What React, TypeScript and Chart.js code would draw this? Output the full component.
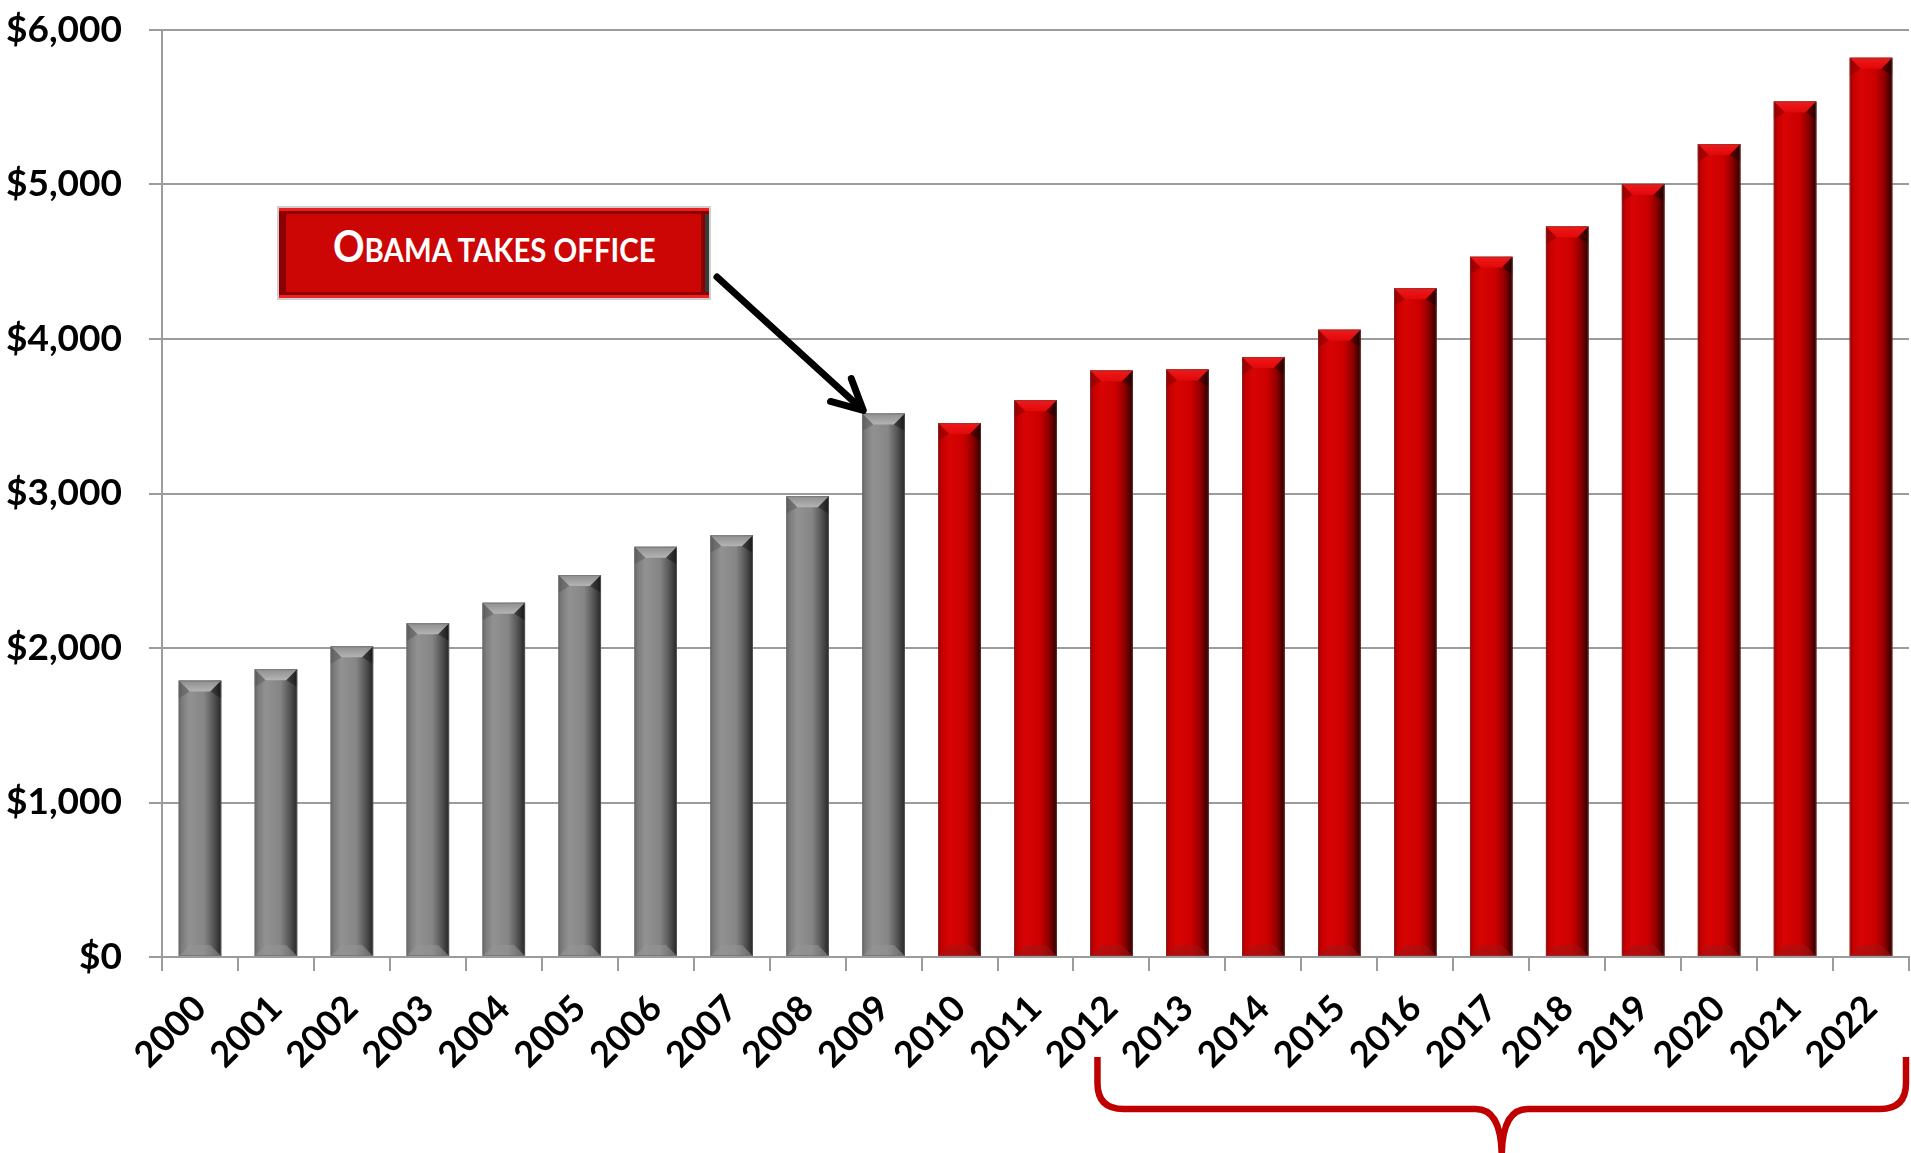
import React, { useEffect, useRef } from 'react';
import { Chart, registerables } from 'chart.js';

Chart.register(...registerables);

// ---------- data ----------
const years = ['2000', '2001', '2002', '2003', '2004', '2005', '2006', '2007', '2008', '2009', '2010', '2011',
  '2012', '2013', '2014', '2015', '2016', '2017', '2018', '2019', '2020', '2021', '2022'];
const outlays = [1789, 1863, 2011, 2160, 2293, 2472, 2655, 2729, 2983, 3518, 3456, 3603,
  3796, 3803, 3883, 4060, 4329, 4532, 4728, 5004, 5262, 5537, 5820];
const yTickValues = [0, 1000, 2000, 3000, 4000, 5000, 6000];
const firstRedYear = '2010';
const annotationYear = '2009';
const braceStartYear = '2012';
const annotationLabel = 'Obama takes office';

// ---------- layout ----------
const W = 1911;
const H = 1153;
const ANN = { left: 277, top: 206, width: 434, height: 94 };
const FONT = 'Lato, "Open Sans", "DejaVu Sans", sans-serif';

const GRID = '#9c9c9c';

function barStyles(chart: any) {
  const ctx = chart.ctx as CanvasRenderingContext2D;
  const meta = chart.getDatasetMeta(0);
  const redFrom = years.indexOf(firstRedYear);
  meta.data.forEach((el: any, i: number) => {
    const { x, y, base, width } = el.getProps(['x', 'y', 'base', 'width'], true);
    const l = x - width / 2;
    const r = x + width / 2;
    const red = i >= redFrom;
    ctx.save();
    const g = ctx.createLinearGradient(l, 0, r, 0);
    if (red) {
      g.addColorStop(0, '#9a0000');
      g.addColorStop(0.08, '#c40000');
      g.addColorStop(0.25, '#d80404');
      g.addColorStop(0.6, '#cc0000');
      g.addColorStop(0.82, '#8c0000');
      g.addColorStop(1, '#2a0000');
    } else {
      g.addColorStop(0, '#666666');
      g.addColorStop(0.08, '#7c7c7c');
      g.addColorStop(0.25, '#919191');
      g.addColorStop(0.6, '#868686');
      g.addColorStop(0.82, '#555555');
      g.addColorStop(1, '#262626');
    }
    ctx.fillStyle = g;
    ctx.fillRect(l, y, width, base - y);
    // top bevel
    const bh = Math.min(11, (base - y) / 2);
    ctx.beginPath();
    ctx.moveTo(l, y);
    ctx.lineTo(r, y);
    ctx.lineTo(r - bh, y + bh);
    ctx.lineTo(l + bh, y + bh);
    ctx.closePath();
    const tg = ctx.createLinearGradient(0, y, 0, y + bh);
    if (red) {
      tg.addColorStop(0, '#f01a1a');
      tg.addColorStop(1, '#e00808');
    } else {
      tg.addColorStop(0, '#8e8e8e');
      tg.addColorStop(1, '#b4b4b4');
    }
    ctx.fillStyle = tg;
    ctx.fill();
    // side bevel triangles (top)
    ctx.beginPath();
    ctx.moveTo(l, y);
    ctx.lineTo(l + bh, y + bh);
    ctx.lineTo(l, y + bh * 1.6);
    ctx.closePath();
    ctx.fillStyle = red ? 'rgba(120,0,0,0.45)' : 'rgba(60,60,60,0.3)';
    ctx.fill();
    ctx.beginPath();
    ctx.moveTo(r, y);
    ctx.lineTo(r - bh, y + bh);
    ctx.lineTo(r, y + bh * 1.6);
    ctx.closePath();
    ctx.fillStyle = 'rgba(0,0,0,0.35)';
    ctx.fill();
    // bottom bevel
    ctx.beginPath();
    ctx.moveTo(l, base);
    ctx.lineTo(r, base);
    ctx.lineTo(r - bh, base - bh);
    ctx.lineTo(l + bh, base - bh);
    ctx.closePath();
    ctx.fillStyle = red ? 'rgba(160,20,20,0.55)' : 'rgba(150,150,150,0.55)';
    ctx.fill();
    // thin outline
    ctx.strokeStyle = red ? 'rgba(120,60,60,0.6)' : 'rgba(110,110,110,0.6)';
    ctx.lineWidth = 1;
    ctx.strokeRect(l + 0.5, y + 0.5, width - 1, base - y - 1);
    ctx.restore();
  });
}

function drawArrow(chart: any) {
  const ctx = chart.ctx as CanvasRenderingContext2D;
  const meta = chart.getDatasetMeta(0);
  const el = meta.data[years.indexOf(annotationYear)];
  if (!el) return;
  const { x, y, width } = el.getProps(['x', 'y', 'width'], true);
  const tx = x - width / 2 + 1;
  const ty = y - 3;
  const sx = ANN.left + ANN.width + 6;
  const sy = ANN.top + 71;
  const ang = Math.atan2(ty - sy, tx - sx);
  ctx.save();
  ctx.strokeStyle = '#000';
  ctx.lineWidth = 7;
  ctx.lineCap = 'round';
  ctx.lineJoin = 'round';
  ctx.beginPath();
  ctx.moveTo(sx, sy);
  ctx.lineTo(tx - Math.cos(ang) * 4, ty - Math.sin(ang) * 4);
  ctx.stroke();
  const len = 34;
  const spread = (27 * Math.PI) / 180;
  ctx.beginPath();
  ctx.moveTo(tx + Math.cos(ang + Math.PI - spread) * len, ty + Math.sin(ang + Math.PI - spread) * len);
  ctx.lineTo(tx, ty);
  ctx.lineTo(tx + Math.cos(ang + Math.PI + spread) * len, ty + Math.sin(ang + Math.PI + spread) * len);
  ctx.stroke();
  ctx.restore();
}

function drawBrace(chart: any) {
  const ctx = chart.ctx as CanvasRenderingContext2D;
  const xs = chart.scales.x;
  const area = chart.chartArea;
  const L = xs.getPixelForValue(years.indexOf(braceStartYear)) - 14;
  const R = area.right - 3;
  const C = (L + R) / 2;
  const top = 1057;
  const mid = 1109;
  const bot = H + 4;
  const r = 26;
  ctx.save();
  ctx.strokeStyle = '#c00000';
  ctx.lineWidth = 6.5;
  ctx.lineCap = 'butt';
  ctx.beginPath();
  ctx.moveTo(L, top);
  ctx.lineTo(L, mid - r);
  ctx.quadraticCurveTo(L, mid, L + r, mid);
  ctx.lineTo(C - r, mid);
  ctx.quadraticCurveTo(C, mid, C, bot);
  ctx.moveTo(R, top);
  ctx.lineTo(R, mid - r);
  ctx.quadraticCurveTo(R, mid, R - r, mid);
  ctx.lineTo(C + r, mid);
  ctx.quadraticCurveTo(C, mid, C, bot);
  ctx.stroke();
  ctx.restore();
}

const decorPlugin = {
  id: 'decor',
  afterDatasetsDraw(chart: any) {
    barStyles(chart);
  },
  afterDraw(chart: any) {
    drawArrow(chart);
    drawBrace(chart);
  },
};

export default function App() {
  const canvasRef = useRef<HTMLCanvasElement | null>(null);

  useEffect(() => {
    const canvas = canvasRef.current;
    if (!canvas) return;
    const redFrom = years.indexOf(firstRedYear);
    const chart = new Chart(canvas, {
      type: 'bar',
      data: {
        labels: years,
        datasets: [
          {
            data: outlays,
            backgroundColor: years.map((_, i) => (i >= redFrom ? '#cc0000' : '#888888')),
            borderWidth: 0,
            barPercentage: 0.56,
            categoryPercentage: 1,
          },
        ],
      },
      options: {
        responsive: false,
        animation: false,
        devicePixelRatio: 1,
        layout: { padding: { left: 0, right: 2, top: 30, bottom: 0 } },
        plugins: {
          legend: { display: false },
          tooltip: { enabled: false },
        },
        scales: {
          x: {
            ticks: {
              autoSkip: false,
              maxRotation: 45,
              minRotation: 45,
              color: '#000',
              padding: 16,
              font: { family: FONT, weight: 'bold', size: 36 },
            },
            grid: {
              offset: true,
              drawOnChartArea: false,
              drawTicks: true,
              tickLength: 14,
              color: GRID,
              lineWidth: 2,
            },
            border: { display: true, color: GRID, width: 2 },
            afterFit: (s: any) => {
              s.height = H - 957;
              s.paddingLeft = 0;
              s.paddingRight = 0;
            },
          },
          y: {
            min: yTickValues[0],
            max: yTickValues[yTickValues.length - 1],
            afterBuildTicks: (s: any) => {
              s.ticks = yTickValues.map((v) => ({ value: v }));
            },
            ticks: {
              color: '#000',
              padding: 27,
              font: { family: FONT, weight: 'bold', size: 37 },
              callback: (v: any) => '$' + Number(v).toLocaleString('en-US'),
            },
            grid: { color: GRID, lineWidth: 2, tickLength: 13 },
            border: { display: true, color: GRID, width: 2 },
            afterFit: (s: any) => {
              s.width = 162;
              s.paddingTop = 0;
              s.paddingBottom = 0;
            },
          },
        },
      },
      plugins: [decorPlugin],
    } as any);
    return () => chart.destroy();
  }, []);

  const first = annotationLabel.charAt(0).toUpperCase();
  const rest = annotationLabel.slice(1).toUpperCase();

  return (
    <div style={{ position: 'absolute', left: 0, top: 0, width: W, height: H, background: '#fff', overflow: 'hidden' }}>
      <canvas ref={canvasRef} width={W} height={H} style={{ position: 'absolute', left: 0, top: 0, width: W, height: H }} />
      <div
        style={{
          position: 'absolute',
          left: ANN.left,
          top: ANN.top,
          width: ANN.width,
          height: ANN.height,
          boxSizing: 'border-box',
          border: '2px solid #cfcfcf',
          background: '#cc0505',
          boxShadow:
            'inset 0 3px 0 #e82020, inset 0 6px 0 #8e0000, inset 0 -3px 0 #ee2222, inset 0 -6px 0 #8e0000, inset 7px 0 0 #8a0000, inset -4px 0 0 #3a3a3a, inset -8px 0 0 #8a0000',
          display: 'flex',
          alignItems: 'center',
          justifyContent: 'center',
          color: '#fff',
          fontFamily: FONT,
          fontWeight: 'bold',
          lineHeight: 1,
          whiteSpace: 'nowrap',
        }}
      >
        <span style={{ display: 'inline-block', transform: 'scaleX(0.89)', marginTop: -17 }}>
          <span style={{ fontSize: 44 }}>{first}</span>
          <span style={{ fontSize: 33 }}>{rest}</span>
        </span>
      </div>
    </div>
  );
}
